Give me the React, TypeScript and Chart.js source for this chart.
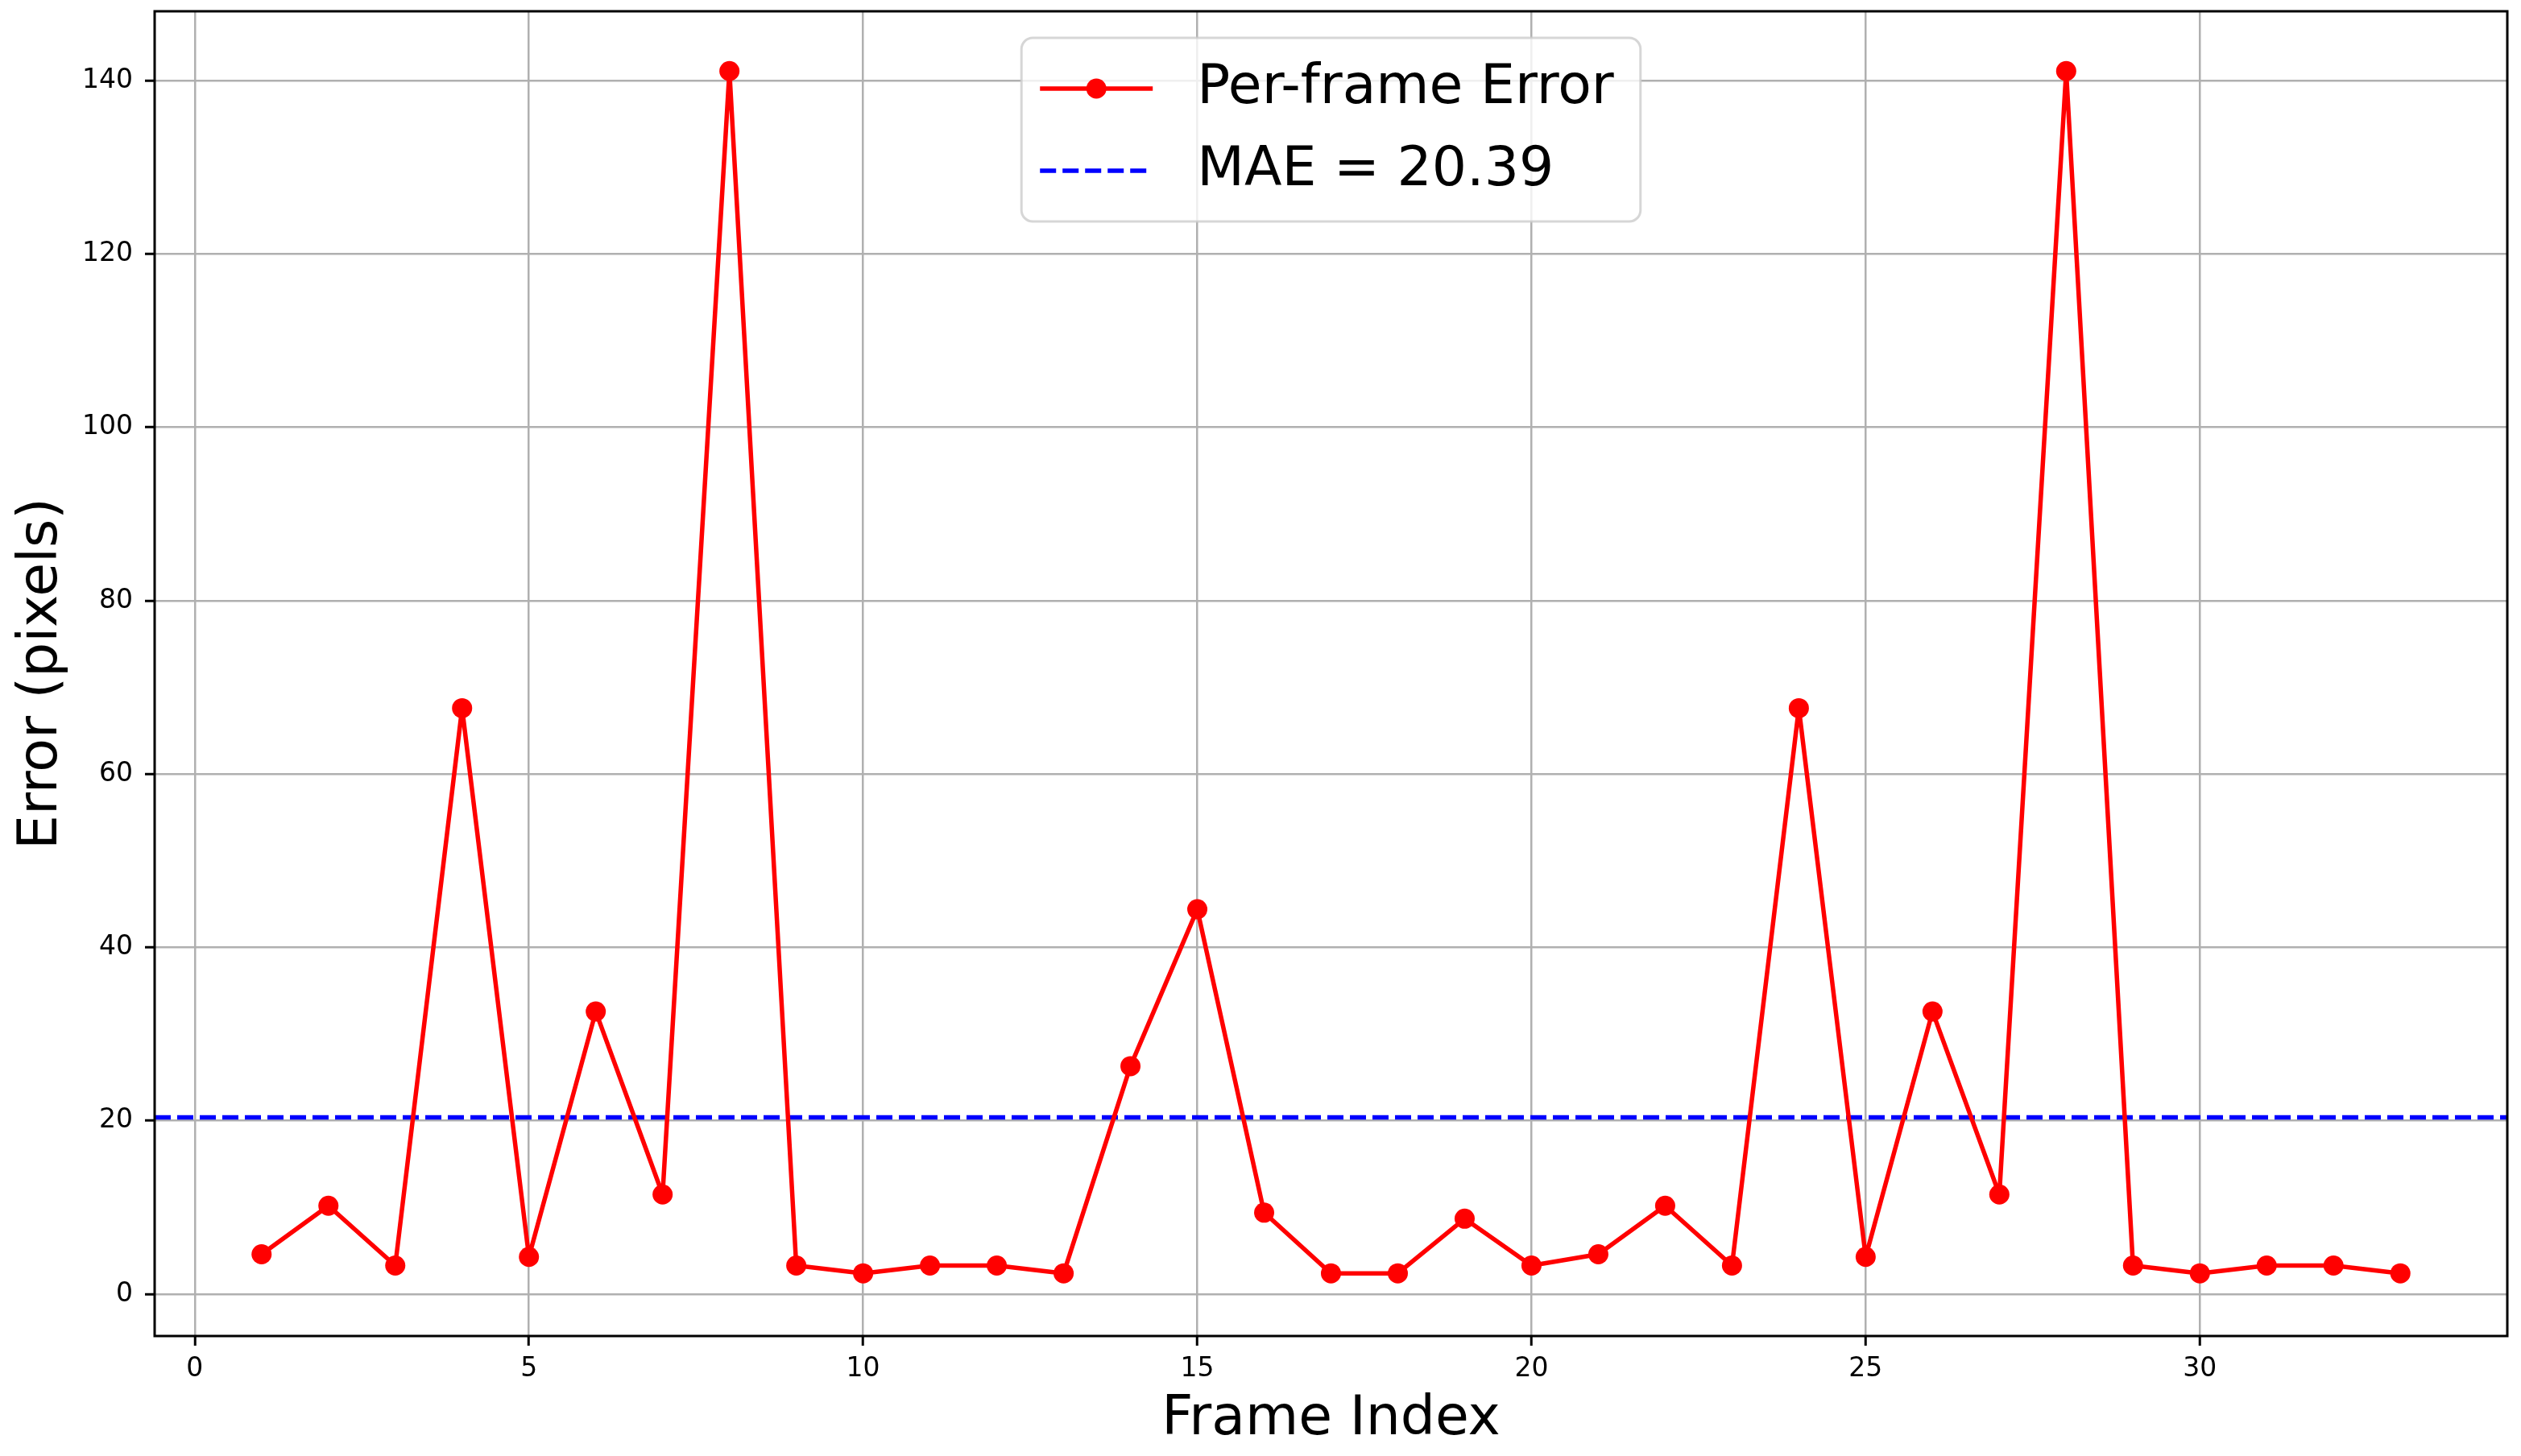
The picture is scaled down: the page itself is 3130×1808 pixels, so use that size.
import React, { useEffect, useRef } from "react";
import { Chart, registerables } from "chart.js";

Chart.register(...registerables);

// ---- data ----
const frameIndex = [
  1, 2, 3, 4, 5, 6, 7, 8, 9, 10, 11, 12, 13, 14, 15, 16, 17,
  18, 19, 20, 21, 22, 23, 24, 25, 26, 27, 28, 29, 30, 31, 32, 33,
];
const perFrameError = [
  4.6, 10.2, 3.3, 67.6, 4.3, 32.6, 11.5, 141.1, 3.3, 2.4, 3.3, 3.3, 2.4,
  26.3, 44.4, 9.4, 2.4, 2.4, 8.7, 3.3, 4.6, 10.2, 3.3, 67.6, 4.3, 32.6,
  11.5, 141.1, 3.3, 2.4, 3.3, 3.3, 2.4,
];
const maeValue = 20.39;
const xTickValues = [0, 5, 10, 15, 20, 25, 30];
const yTickValues = [0, 20, 40, 60, 80, 100, 120, 140];
const xLimits = [-0.6, 34.6];
const yLimits = [-4.83, 148.0];
const seriesLabel = "Per-frame Error";
const maeLabel = `MAE = ${maeValue.toFixed(2)}`;
const xTitle = "Frame Index";
const yTitle = "Error (pixels)";

const FONT = '"DejaVu Sans", "Liberation Sans", sans-serif';

const frameLegendPlugin = {
  id: "frameLegend",
  afterDatasetsDraw(chart: any) {
    const { ctx, chartArea: a } = chart;
    ctx.save();
    ctx.strokeStyle = "#000000";
    ctx.lineWidth = 3;
    ctx.strokeRect(a.left, a.top, a.right - a.left, a.bottom - a.top);
    ctx.restore();
  },
  afterDraw(chart: any) {
    const { ctx, chartArea: a } = chart;
    const ds = chart.data.datasets;
    ctx.save();
    ctx.font = `68px ${FONT}`;
    const labels = ds.map((d: any) => d.label as string);
    const textW = Math.max(...labels.map((l: string) => ctx.measureText(l).width));
    const padL = 23, handleLen = 140, gap = 55, padR = 33;
    const w = padL + handleLen + gap + textW + padR;
    const h = 228;
    const cx = (a.left + a.right) / 2;
    const x0 = cx - w / 2;
    const y0 = a.top + 33;
    ctx.beginPath();
    (ctx as any).roundRect(x0, y0, w, h, 14);
    ctx.fillStyle = "rgba(255,255,255,0.8)";
    ctx.fill();
    ctx.strokeStyle = "rgba(204,204,204,0.8)";
    ctx.lineWidth = 3;
    ctx.stroke();

    const rows = [y0 + 63, y0 + 165];
    ds.forEach((d: any, i: number) => {
      const ry = rows[i];
      const hx0 = x0 + padL;
      const hx1 = hx0 + handleLen;
      ctx.save();
      ctx.strokeStyle = d.borderColor;
      ctx.lineWidth = d.borderWidth;
      ctx.setLineDash(d.borderDash || []);
      ctx.beginPath();
      ctx.moveTo(hx0, ry);
      ctx.lineTo(hx1, ry);
      ctx.stroke();
      ctx.setLineDash([]);
      if (d.pointRadius > 0) {
        ctx.fillStyle = d.pointBackgroundColor;
        ctx.beginPath();
        ctx.arc((hx0 + hx1) / 2, ry, d.pointRadius, 0, Math.PI * 2);
        ctx.fill();
      }
      ctx.restore();
      ctx.fillStyle = "#000000";
      ctx.textAlign = "left";
      ctx.textBaseline = "middle";
      ctx.fillText(d.label, hx1 + gap, ry);
    });
    ctx.restore();
  },
};

export default function App() {
  const canvasRef = useRef<HTMLCanvasElement | null>(null);

  useEffect(() => {
    const canvas = canvasRef.current;
    if (!canvas) return;
    const chart = new Chart(canvas, {
      type: "line",
      data: {
        datasets: [
          {
            label: seriesLabel,
            data: frameIndex.map((x, i) => ({ x, y: perFrameError[i] })),
            borderColor: "#ff0000",
            backgroundColor: "#ff0000",
            borderWidth: 5.5,
            borderJoinStyle: "round",
            borderCapStyle: "round",
            pointRadius: 12.5,
            pointHoverRadius: 12.5,
            pointBackgroundColor: "#ff0000",
            pointBorderWidth: 0,
            tension: 0,
            fill: false,
          } as any,
          {
            label: maeLabel,
            data: xLimits.map((x) => ({ x, y: maeValue })),
            borderColor: "#0000ff",
            backgroundColor: "#0000ff",
            borderWidth: 5.5,
            borderDash: [20, 8],
            pointRadius: 0,
            pointHoverRadius: 0,
            tension: 0,
            fill: false,
          } as any,
        ],
      },
      options: {
        animation: false,
        responsive: false,
        devicePixelRatio: 1,
        events: [],
        layout: { padding: { top: 14, right: 17, left: 0, bottom: 0 } },
        plugins: {
          legend: { display: false },
          tooltip: { enabled: false },
        },
        scales: {
          x: {
            type: "linear",
            min: xLimits[0],
            max: xLimits[1],
            afterBuildTicks: (scale: any) => {
              scale.ticks = xTickValues.map((v) => ({ value: v }));
            },
            afterFit: (scale: any) => {
              scale.height = 149;
              scale.paddingLeft = 0;
              scale.paddingRight = 0;
              scale.paddingTop = 0;
              scale.paddingBottom = 0;
            },
            border: { display: false },
            grid: {
              color: "#b0b0b0",
              lineWidth: 2.5,
              drawTicks: true,
              tickLength: 12,
              tickColor: "#000000",
              tickWidth: 3,
            },
            ticks: {
              color: "#000000",
              font: { family: FONT, size: 33 },
              padding: 10,
              maxRotation: 0,
              autoSkip: false,
            },
            title: {
              display: true,
              text: xTitle,
              color: "#000000",
              font: { family: FONT, size: 68 },
              padding: { top: 0, bottom: 4 },
            },
          },
          y: {
            type: "linear",
            min: yLimits[0],
            max: yLimits[1],
            afterBuildTicks: (scale: any) => {
              scale.ticks = yTickValues.map((v) => ({ value: v }));
            },
            afterFit: (scale: any) => {
              scale.width = 192;
              scale.paddingLeft = 0;
              scale.paddingRight = 0;
              scale.paddingTop = 0;
              scale.paddingBottom = 0;
            },
            border: { display: false },
            grid: {
              color: "#b0b0b0",
              lineWidth: 2.5,
              drawTicks: true,
              tickLength: 12,
              tickColor: "#000000",
              tickWidth: 3,
            },
            ticks: {
              color: "#000000",
              font: { family: FONT, size: 33 },
              padding: 15,
              autoSkip: false,
            },
            title: {
              display: true,
              text: yTitle,
              color: "#000000",
              font: { family: FONT, size: 68 },
              padding: { top: 12, bottom: 0 },
            },
          },
        },
      },
      plugins: [frameLegendPlugin],
    });
    return () => chart.destroy();
  }, []);

  return (
    <div style={{ position: "absolute", left: 0, top: 0, width: 3130, height: 1808, background: "#ffffff" }}>
      <canvas
        ref={canvasRef}
        width={3130}
        height={1808}
        style={{ display: "block", width: 3130, height: 1808 }}
      />
    </div>
  );
}
